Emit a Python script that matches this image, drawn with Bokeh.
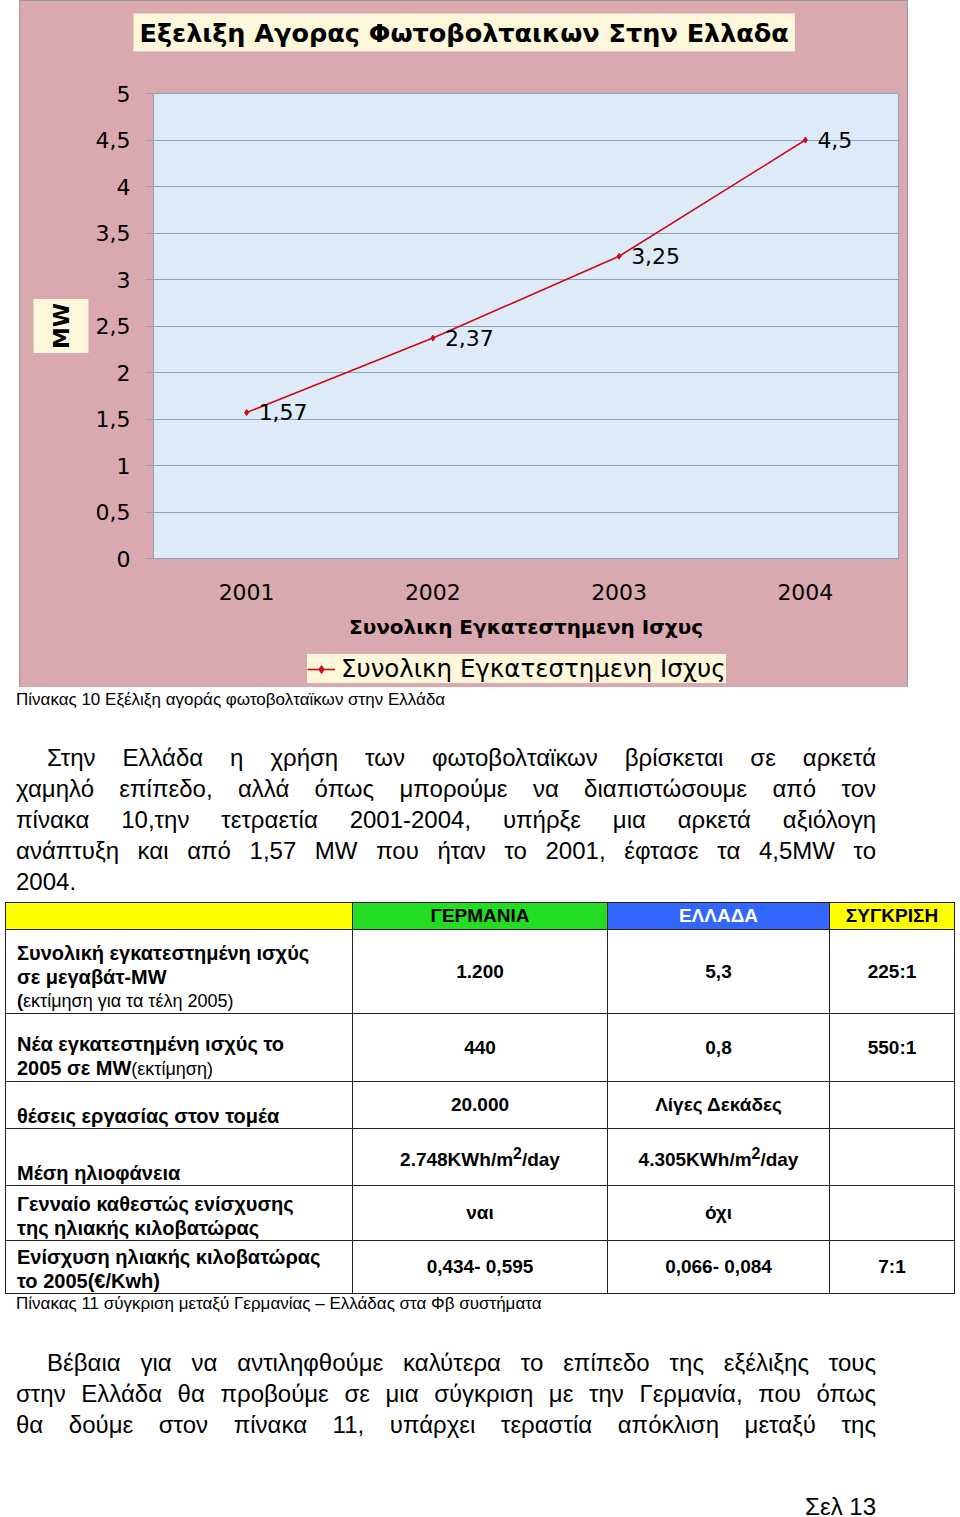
from bokeh.plotting import figure
from bokeh.models import (ColumnDataSource, Legend, LegendItem, CustomJSTickFormatter,
                          SingleIntervalTicker, Div, Range1d, Title)
from bokeh.layouts import column
from bokeh.embed import file_html
from bokeh.resources import INLINE
from bokeh.core.properties import value

# ---------------- data ----------------
years = ["2001", "2002", "2003", "2004"]
power_mw = [1.57, 2.37, 3.25, 4.5]
series_name = "Συνολικη Εγκατεστημενη Ισχυς"
chart_title = "Εξελιξη Αγορας Φωτοβολταικων Στην Ελλαδα"
y_title = "MW"
x_title = "Συνολικη Εγκατεστημενη Ισχυς"

caption_chart = "Πίνακας 10 Εξέλιξη αγοράς φωτοβολταϊκων στην Ελλάδα"
paragraph_1 = [
    "Στην Ελλάδα  η χρήση των φωτοβολταϊκων βρίσκεται σε αρκετά",
    "χαμηλό επίπεδο, αλλά όπως μπορούμε να διαπιστώσουμε από τον",
    "πίνακα 10,την τετραετία 2001-2004, υπήρξε μια αρκετά αξιόλογη",
    "ανάπτυξη και από 1,57 MW που ήταν το 2001, έφτασε τα  4,5MW το",
    "2004.",
]
table_header = ["", "ΓΕΡΜΑΝΙΑ", "ΕΛΛΑΔΑ", "ΣΥΓΚΡΙΣΗ"]
# each row label: list of lines, each line = (bold part, regular part)
row_labels = [
    [("Συνολική εγκατεστημένη ισχύς", ""), ("σε   μεγαβάτ-MW", ""), ("(", "εκτίμηση για τα τέλη 2005)")],
    [("Νέα εγκατεστημένη ισχύς το", ""), ("2005 σε MW", "(εκτίμηση)")],
    [("θέσεις εργασίας στον τομέα", "")],
    [("Μέση ηλιοφάνεια", "")],
    [("Γενναίο καθεστώς ενίσχυσης", ""), ("της ηλιακής κιλοβατώρας", "")],
    [("Ενίσχυση ηλιακής κιλοβατώρας", ""), ("το 2005(€/Kwh)", "")],
]
germany = ["1.200", "440", "20.000", "2.748KWh/m<sup>2</sup>/day", "ναι", "0,434- 0,595"]
greece = ["5,3", "0,8", "Λίγες Δεκάδες", "4.305KWh/m<sup>2</sup>/day", "όχι", "0,066- 0,084"]
comparison = ["225:1", "550:1", "", "", "", "7:1"]
caption_table = "Πίνακας 11 σύγκριση μεταξύ Γερμανίας – Ελλάδας στα Φβ συστήματα"
paragraph_2 = [
    "Βέβαια για να αντιληφθούμε καλύτερα το επίπεδο της εξέλιξης τους",
    "στην Ελλάδα θα προβούμε σε μια σύγκριση με την Γερμανία, που όπως",
    "θα δούμε στον πίνακα 11, υπάρχει τεραστία απόκλιση  μεταξύ της",
]
page_label = "Σελ 13"

# ---------------- styles ----------------
CF = "DejaVu Sans"
PINK = "#DAA9AF"
BLUE = "#DDEBF8"
CREAM = "#FCF6DA"
RED = "#CC0A14"
GRID = "#8FA2B3"


def setp(obj, **kw):
    for k, v in kw.items():
        if hasattr(obj, k):
            setattr(obj, k, v)


# ---------------- chart ----------------
src = ColumnDataSource(dict(
    year=years, mw=power_mw,
    label=[str(v).replace(".", ",") for v in power_mw],
))

p = figure(width=887, height=650, x_range=years, y_range=Range1d(0, 5),
           output_backend="svg", toolbar_location=None,
           min_border_left=133, min_border_right=9, min_border_top=92, min_border_bottom=93,
           background_fill_color=BLUE, border_fill_color=PINK,
           outline_line_color=GRID)

line_r = p.line("year", "mw", source=src, line_color=RED, line_width=1.6)
pts_r = p.scatter("year", "mw", source=src, marker="diamond", size=6, color=RED)
p.text("year", "mw", text="label", source=src, x_offset=12, text_baseline="middle",
       text_font=value(CF), text_font_size="22px", text_color="black")

# spacer between the plot area and the chart title
p.add_layout(Title(text=" ", text_font_size="1px", standoff=39), "above")

# title
p.title.text = chart_title
p.title.align = "left"
p.title.vertical_align = "bottom"
p.title.offset = -20
p.title.standoff = 0
p.title.text_font = CF
p.title.text_font_size = "25.5px"
p.title.text_font_style = "bold"
p.title.text_color = "black"
setp(p.title, background_fill_color=CREAM, padding=dict(x=6, y=4))

# y title as a side title with a box
ytitle = Title(text=y_title, align="center", text_font=CF, text_font_size="22px",
               text_font_style="bold", text_color="black", standoff=8)
setp(ytitle, background_fill_color=CREAM, padding=dict(x=4, y=15))
p.add_layout(ytitle, "left")

p.xgrid.visible = False
p.ygrid.grid_line_color = GRID
p.ygrid.grid_line_width = 1

yax = p.yaxis[0]
yax.ticker = SingleIntervalTicker(interval=0.5, num_minor_ticks=0)
yax.formatter = CustomJSTickFormatter(code="return tick.toString().replace('.', ',');")
yax.axis_line_color = GRID
yax.major_tick_line_color = GRID
yax.major_tick_out = 8
yax.major_tick_in = 0
yax.minor_tick_line_color = None
yax.major_label_standoff = 15
yax.major_label_text_font = CF
yax.major_label_text_font_size = "22px"
yax.major_label_text_color = "black"

xax = p.xaxis[0]
xax.axis_line_color = GRID
xax.major_tick_line_color = None
xax.major_label_standoff = 19
xax.major_label_text_font = CF
xax.major_label_text_font_size = "22px"
xax.major_label_text_color = "black"
xax.axis_label = x_title
xax.axis_label_standoff = 12
xax.axis_label_text_font = CF
xax.axis_label_text_font_size = "20px"
xax.axis_label_text_font_style = "bold"
xax.axis_label_text_color = "black"

# legend strip (continuation of the pink chart area); the series is drawn here
# too but falls outside this strip's value range, so only its legend shows
pl = figure(width=887, height=36, x_range=years, y_range=Range1d(100, 101),
            x_axis_type=None, y_axis_type=None, output_backend="svg", toolbar_location=None,
            min_border=0, background_fill_color=PINK, border_fill_color=PINK,
            outline_line_color=None)
pl.xgrid.visible = False
pl.ygrid.visible = False
leg_line = pl.line("year", "mw", source=src, line_color=RED, line_width=1.6)
leg_pts = pl.scatter("year", "mw", source=src, marker="diamond", size=6, color=RED)
legend = Legend(items=[LegendItem(label=series_name, renderers=[leg_line, leg_pts])],
                location=(154, 4), orientation="horizontal",
                background_fill_color=CREAM, background_fill_alpha=1.0,
                border_line_color=None, padding=3, margin=0, spacing=0,
                glyph_width=28, glyph_height=20, label_standoff=6, label_height=26,
                label_text_font=CF, label_text_font_size="24.5px", label_text_color="black")
pl.add_layout(legend)

chart = column(p, pl, spacing=0, margin=(1, 0, 0, 20),
               styles={"outline": "1px solid #9a9a9a", "background": PINK})

# ---------------- text & table ----------------
TF = "'Liberation Sans', Arial, sans-serif"


def para(lines, top, justify_last):
    out = [f'<div style="position:absolute;left:16px;top:{top}px;width:860px;'
           f'font-size:24px;line-height:31px;">']
    for i, ln in enumerate(lines):
        last = i == len(lines) - 1
        just = ("text-align:left;" if (last and not justify_last)
                else "text-align:justify;text-align-last:justify;")
        indent = "text-indent:31px;" if i == 0 else ""
        out.append(f'<div style="white-space:nowrap;{just}{indent}">{ln}</div>')
    out.append('</div>')
    return "".join(out)


header_bg = ["#FFFF00", "#22DD22", "#3366FF", "#FFFF00"]
header_fg = ["black", "black", "white", "black"]
row_h = [84, 68, 47, 57, 55, 53]
col_w = [347, 255, 222, 125]
bd = "1.5px solid #222"

tbl = [f'<table style="position:absolute;left:5px;top:215px;width:949px;border-collapse:collapse;'
       f'table-layout:fixed;font-size:19px;font-weight:bold;">']
tbl.append("<colgroup>" + "".join(f'<col style="width:{w}px">' for w in col_w) + "</colgroup>")
tbl.append('<tr style="height:27px">' + "".join(
    f'<td style="border:{bd};background:{bg};color:{fg};text-align:center;padding:0;line-height:22px;">{h}</td>'
    for h, bg, fg in zip(table_header, header_bg, header_fg)) + "</tr>")
for i, lab in enumerate(row_labels):
    lines = []
    for j, (b, r) in enumerate(lab):
        small = "font-size:18px;" if b == "(" else ""
        reg = f'<span style="font-weight:normal;font-size:18px;">{r}</span>' if r else ""
        lines.append(f'<div style="{small}">{b}{reg}</div>')
    cells = [f'<td style="border:{bd};text-align:left;vertical-align:bottom;padding:0 0 0 11px;'
             f'line-height:24px;font-size:20px;">{"".join(lines)}</td>']
    for v in (germany[i], greece[i], comparison[i]):
        cells.append(f'<td style="border:{bd};text-align:center;vertical-align:middle;padding:0;'
                     f'line-height:22px;">{v}</td>')
    tbl.append(f'<tr style="height:{row_h[i]}px">' + "".join(cells) + "</tr>")
tbl.append("</table>")

html = (
    f'<div style="position:relative;width:960px;height:830px;font-family:{TF};color:black;background:white;">'
    f'<div style="position:absolute;left:16px;top:3px;font-size:17px;line-height:20px;white-space:nowrap;">{caption_chart}</div>'
    + para(paragraph_1, 54.5, False)
    + "".join(tbl)
    + f'<div style="position:absolute;left:16px;top:607px;font-size:17px;line-height:20px;white-space:nowrap;">{caption_table}</div>'
    + para(paragraph_2, 659.5, True)
    + f'<div style="position:absolute;left:16px;top:803.5px;width:860px;text-align:right;font-size:24px;line-height:31px;">{page_label}</div>'
    + '</div>'
)
div = Div(text=html, width=960, height=830, margin=0)

layout = column(chart, div, spacing=0)
open("out.html", "w").write(file_html(layout, INLINE))
